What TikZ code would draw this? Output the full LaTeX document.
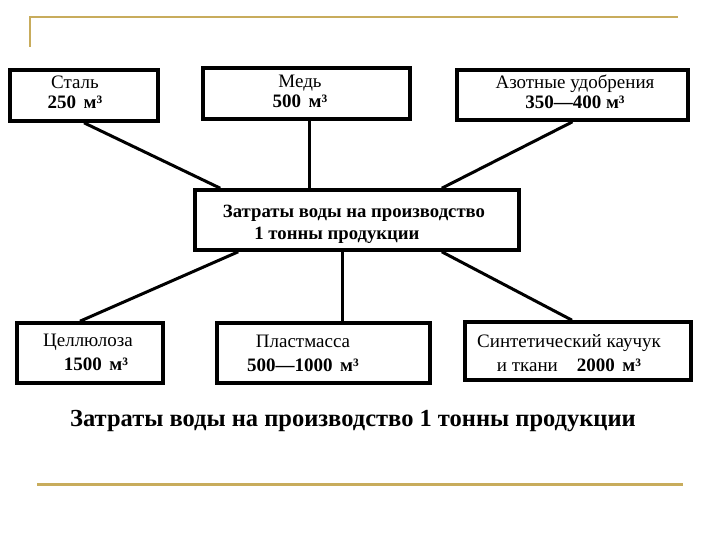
\documentclass[tikz,border=0pt]{standalone}
\usepackage{fontspec}
\setmainfont{Liberation Serif}
\usetikzlibrary{calc}

\definecolor{gold}{RGB}{200,172,92}

\newcommand*{\cub}[1]{\textbf{#1\hspace{0.4em}м³}}

\begin{document}
\begin{tikzpicture}[
        x=1pt, y=-1pt,
        box/.style={draw, line width=3.6pt, inner sep=0pt},
        txt/.style={align=center, inner sep=0pt, font=\fontsize{19}{20}\selectfont},
        lowtxt/.style={txt, font=\fontsize{19}{24}\selectfont},
        link/.style={line width=3pt}
    ]
    \useasboundingbox (0,0) rectangle (720,540);

    % frame lines
    \coordinate (t0) at (30,47);
    \coordinate (t1) at (30,17);
    \coordinate (t2) at (678,17);
    \coordinate (b0) at (37,484);
    \coordinate (b1) at (683,484);
    \draw[gold, line width=1.6pt] (t0) -- (t1) -- (t2);
    \draw[gold, line width=3pt] (b0) -- (b1);

    % boxes
    \node[box, minimum width=148pt, minimum height=51pt] (stal) at (84,95.5) {};
    \node[box, minimum width=207pt, minimum height=51pt] (med) at (306.5,93.5) {};
    \node[box, minimum width=231pt, minimum height=50pt] (azot) at (572.5,95) {};
    \node[box, minimum width=324pt, minimum height=60pt] (zatr) at (357,220) {};
    \node[box, minimum width=146pt, minimum height=60pt] (cell) at (90,353) {};
    \node[box, minimum width=213pt, minimum height=60pt] (plast) at (323.5,353) {};
    \node[box, minimum width=226pt, minimum height=58pt] (sint) at (578,351) {};

    % texts
    \node[txt] (stal-t) at (75,92) {Сталь\\\cub{250}};
    \node[txt] (med-t) at (300,91) {Медь\\\cub{500}};
    \node[txt] (azot-t) at (575,92) {Азотные удобрения\\\textbf{350—400 м³}};
    \node[txt, font=\fontsize{18.7}{22}\selectfont\bfseries] (zatr-t) at (354,224)
        {Затраты воды на производство\\\hspace*{-34pt}1 тонны продукции};
    \node[lowtxt] (cell-t) at (88,352) {Целлюлоза\\\hspace*{16pt}\cub{1500}};
    \node[lowtxt] (plast-t) at (303,353) {Пластмасса\\\cub{500—1000}};
    \node[lowtxt] (sint-t) at (569,353) {Синтетический каучук\\и ткани\quad\cub{2000}};

    \node[font=\fontsize{24.5}{28}\selectfont\bfseries, inner sep=0pt] (caption) at (353,421)
        {Затраты воды на производство 1 тонны продукции};

    % connectors
    \draw[link] (stal.south) -- ([xshift=27pt]zatr.north west);
    \draw[link] ([xshift=2.5pt]med.south) -- ([xshift=2.5pt]med.south |- zatr.north);
    \draw[link] (azot.south) -- ([xshift=-79pt]zatr.north east);
    \draw[link] ([xshift=45pt]zatr.south west) -- ([xshift=-10pt]cell.north);
    \draw[link] ([xshift=-15pt]zatr.south) -- ([xshift=-15pt]zatr.south |- plast.north);
    \draw[link] ([xshift=-79pt]zatr.south east) -- ([xshift=-6pt]sint.north);
\end{tikzpicture}
\end{document}
